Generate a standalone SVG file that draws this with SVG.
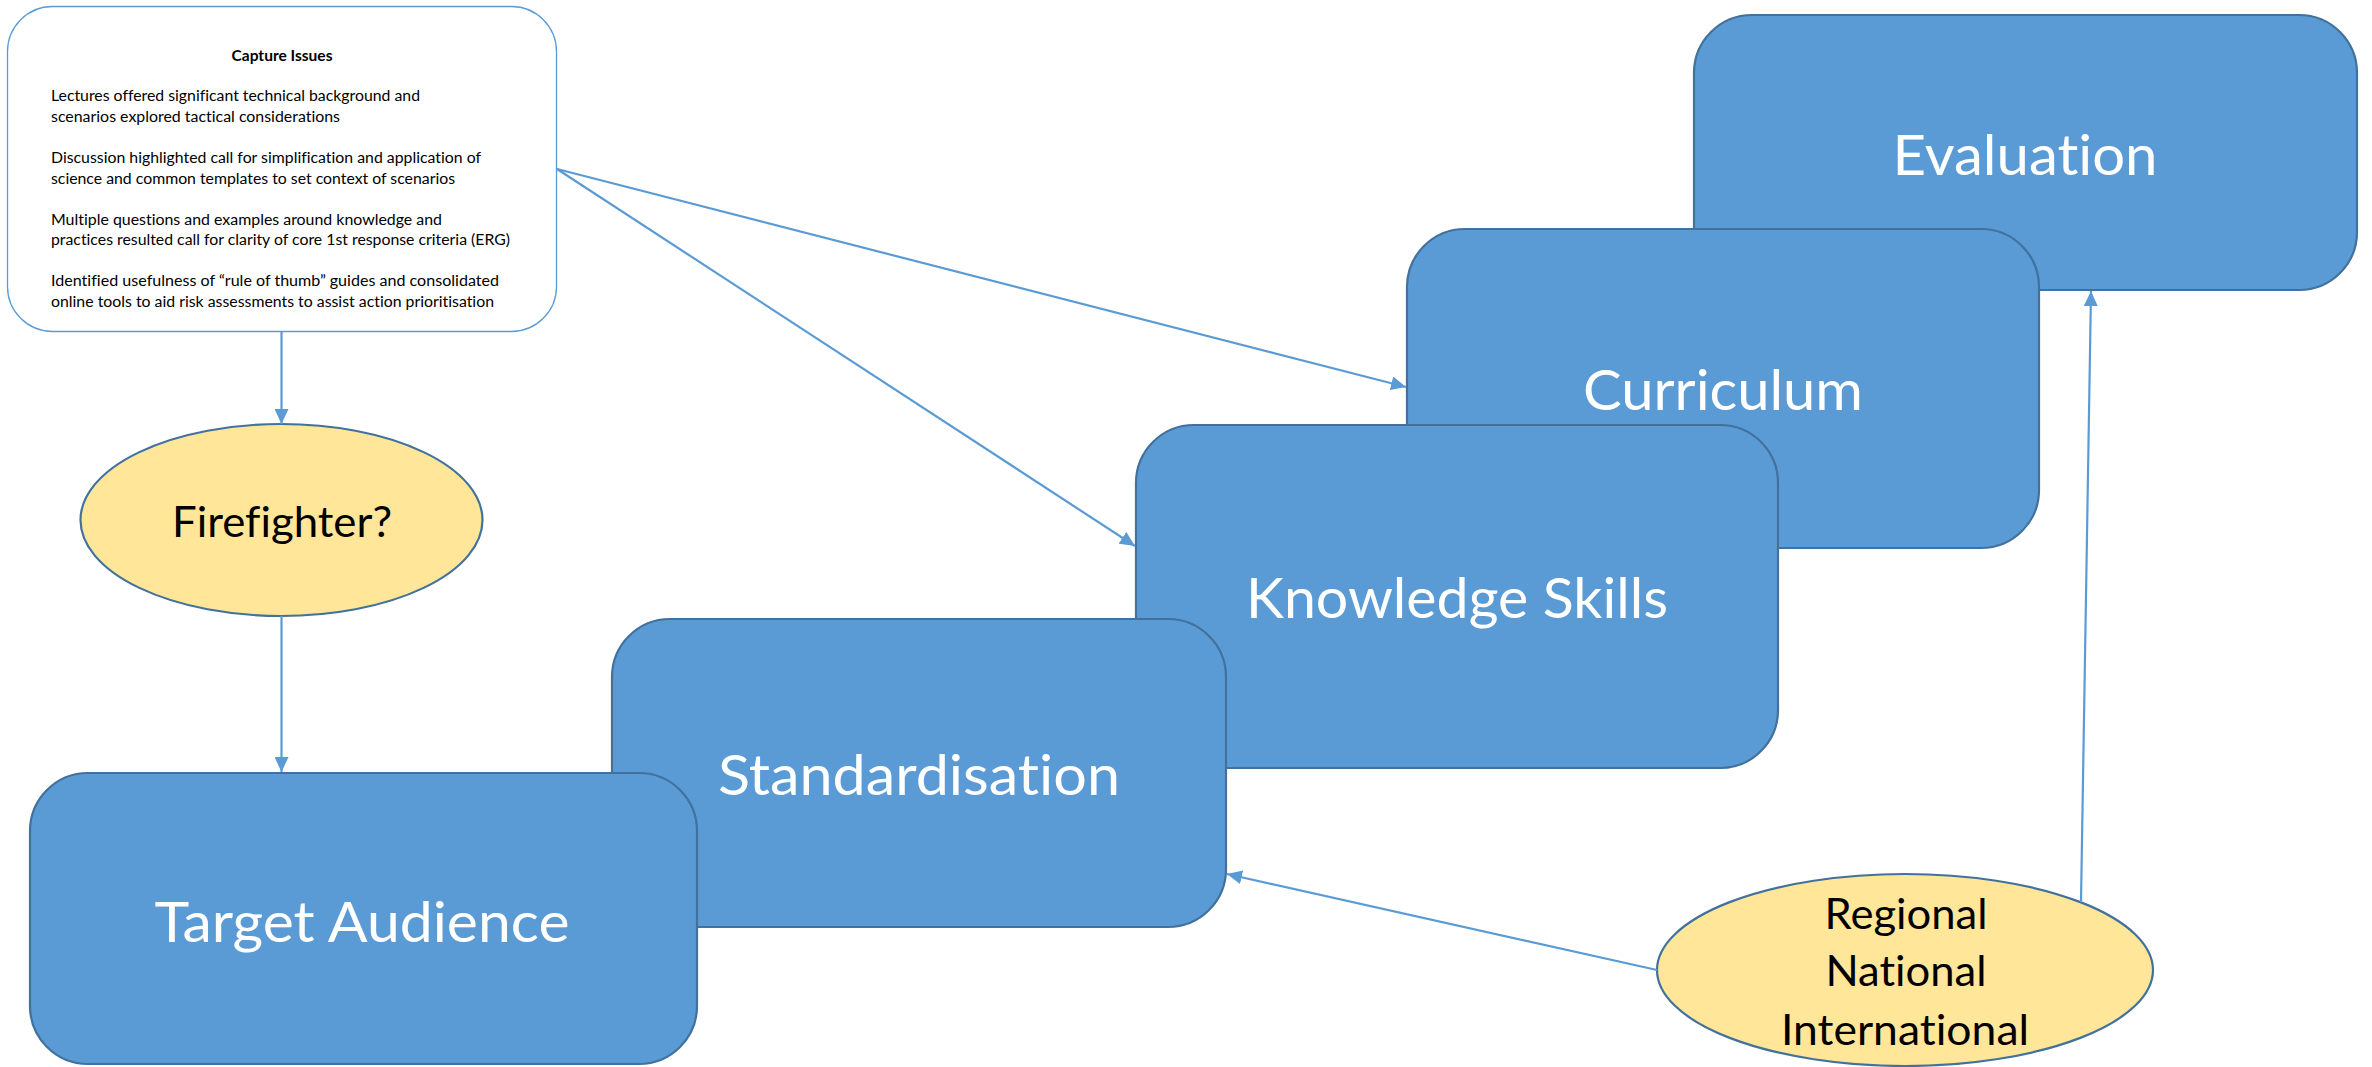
<svg xmlns="http://www.w3.org/2000/svg" width="2372" height="1067" viewBox="0 0 2372 1067">
  <defs>
    <marker id="arrow" viewBox="0 0 15 14" refX="15" refY="7" markerWidth="15" markerHeight="14" markerUnits="userSpaceOnUse" orient="auto">
      <path d="M0,0 L15,7 L0,14 z" fill="#5B9BD5"/>
    </marker>
    <style>
      text { font-variant-ligatures: none; font-feature-settings: "liga" 0, "dlig" 0; }
      .box { fill: #5B9BD5; stroke: #41719C; stroke-width: 2.2; }
      .oval { fill: #FFE699; stroke: #41719C; stroke-width: 2.2; }
      .note { fill: #FFFFFF; stroke: #5B9BD5; stroke-width: 1.3; }
      .big { font-family: Lato, "Liberation Sans", sans-serif; font-size: 56px; fill: #FFFFFF; text-anchor: middle; }
      .mid { font-family: Lato, "Liberation Sans", sans-serif; font-size: 42px; fill: #000000; text-anchor: middle; }
      .title { font-family: Lato, "Liberation Sans", sans-serif; font-size: 15px; font-weight: bold; fill: #000000; text-anchor: middle; }
      .body { font-family: Lato, "Liberation Sans", sans-serif; font-size: 14.5px; fill: #000000; }
      .conn { fill: none; stroke: #5B9BD5; stroke-width: 2.2; marker-end: url(#arrow); }
    </style>
  </defs>

  <!-- Notes panel -->
  <g id="capture-issues">
    <rect class="note" x="7.5" y="6.5" width="549" height="325" rx="45" ry="45"/>
    <text class="title" x="282" y="61" textLength="101" lengthAdjust="spacingAndGlyphs">Capture Issues</text>
    <text class="body" x="51" y="101" textLength="369" lengthAdjust="spacingAndGlyphs">Lectures offered significant technical background and</text>
    <text class="body" x="51" y="122" textLength="289" lengthAdjust="spacingAndGlyphs">scenarios explored tactical considerations</text>
    <text class="body" x="51" y="163" textLength="430" lengthAdjust="spacingAndGlyphs">Discussion highlighted call for simplification and application of</text>
    <text class="body" x="51" y="183.5" textLength="404" lengthAdjust="spacingAndGlyphs">science and common templates to set context of scenarios</text>
    <text class="body" x="51" y="224.5" textLength="391" lengthAdjust="spacingAndGlyphs">Multiple questions and examples around knowledge and</text>
    <text class="body" x="51" y="245" textLength="459" lengthAdjust="spacingAndGlyphs">practices resulted call for clarity of core 1st response criteria (ERG)</text>
    <text class="body" x="51" y="286" textLength="448" lengthAdjust="spacingAndGlyphs">Identified usefulness of “rule of thumb” guides and consolidated</text>
    <text class="body" x="51" y="306.5" textLength="443" lengthAdjust="spacingAndGlyphs">online tools to aid risk assessments to assist action prioritisation</text>
  </g>

  <!-- Stacked stage boxes, back to front -->
  <g id="evaluation">
    <rect class="box" x="1694" y="15" width="663" height="275" rx="58" ry="58"/>
    <text class="big" x="2025" y="175" textLength="265" lengthAdjust="spacingAndGlyphs">Evaluation</text>
  </g>
  <g id="curriculum">
    <rect class="box" x="1407" y="229" width="632" height="319" rx="58" ry="58"/>
    <text class="big" x="1723" y="410" textLength="280" lengthAdjust="spacingAndGlyphs">Curriculum</text>
  </g>
  <g id="knowledge-skills">
    <rect class="box" x="1136" y="425" width="642" height="343" rx="58" ry="58"/>
    <text class="big" x="1457" y="618" textLength="422" lengthAdjust="spacingAndGlyphs">Knowledge Skills</text>
  </g>
  <g id="standardisation">
    <rect class="box" x="612" y="619" width="614" height="308" rx="58" ry="58"/>
    <text class="big" x="919" y="795" textLength="402" lengthAdjust="spacingAndGlyphs">Standardisation</text>
  </g>
  <g id="target-audience">
    <rect class="box" x="30" y="773" width="667" height="291" rx="58" ry="58"/>
    <text class="big" x="362" y="942" textLength="415" lengthAdjust="spacingAndGlyphs">Target Audience</text>
  </g>

  <!-- Ovals -->
  <g id="firefighter">
    <ellipse class="oval" cx="281.5" cy="520" rx="201" ry="96"/>
    <text class="mid" x="282" y="537" textLength="220" lengthAdjust="spacingAndGlyphs">Firefighter?</text>
  </g>
  <g id="scope">
    <ellipse class="oval" cx="1905" cy="970" rx="248" ry="96"/>
    <text class="mid" x="1906" y="929" textLength="163" lengthAdjust="spacingAndGlyphs">Regional</text>
    <text class="mid" x="1906" y="986" textLength="161" lengthAdjust="spacingAndGlyphs">National</text>
    <text class="mid" x="1905" y="1045" textLength="248" lengthAdjust="spacingAndGlyphs">International</text>
  </g>

  <!-- Connectors -->
  <g id="connectors">
    <path class="conn" d="M281.5,332 L281.5,424"/>
    <path class="conn" d="M281.5,616 L281.5,772"/>
    <path class="conn" d="M557,169 L1406,387"/>
    <path class="conn" d="M557,169 L1135,546"/>
    <path class="conn" d="M1657,970 L1227,874"/>
    <path class="conn" d="M2081,902 L2091,291"/>
  </g>
</svg>
